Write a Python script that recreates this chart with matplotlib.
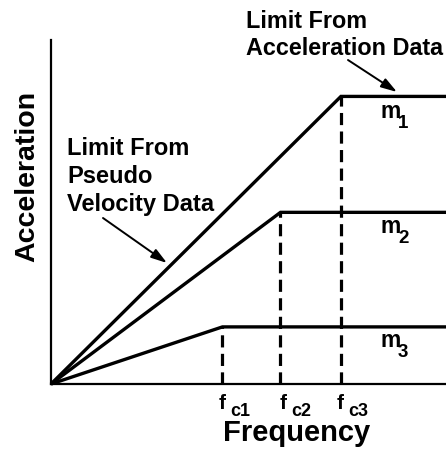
import matplotlib
matplotlib.use("Agg")
import matplotlib.pyplot as plt

# corner frequencies and plateau accelerations (arbitrary units)
fc = [4.34, 5.81, 7.34]
levels = [1.66, 4.99, 8.36]
fc_names = ["c1", "c2", "c3"]
m_names = ["1", "2", "3"]
f_max = 10.0

plt.rcParams['font.family'] = ['Liberation Sans', 'DejaVu Sans']
plt.rcParams['font.weight'] = 'bold'

W, H = 446, 455
fig = plt.figure(figsize=(W / 100, H / 100), dpi=100)
ax = fig.add_axes([51 / W, (H - 384) / H, (W - 51) / W, (384 - 40) / H])


def fp(x, y):
    # pixel position measured from the top-left corner -> figure pixels
    return (x, H - y)


# response curves: rise from origin, flat after the corner frequency
for f, a in zip(fc, levels):
    ax.plot([0, f, f_max], [0, a, a], color='black', lw=2.4,
            solid_joinstyle='miter', solid_capstyle='butt', clip_on=False)
    ax.plot([f, f], [0, a], color='black', lw=2.3,
            linestyle=(0, (3.8, 2.0)), dash_capstyle='butt')

ax.set_xlim(0, f_max)
ax.set_ylim(0, 10)
ax.set_xticks([])
ax.set_yticks([])
for side in ['top', 'right']:
    ax.spines[side].set_visible(False)
for side in ['left', 'bottom']:
    ax.spines[side].set_linewidth(1.6)

# f_c labels under the dashed lines
f_left = [219, 280, 337]
for x0, name in zip(f_left, fc_names):
    fig.text(x0 / W, (H - 409) / H, "f", fontsize=15, fontweight='bold',
             ha='left', va='baseline')
    fig.text((x0 + 11) / W, (H - 416) / H, name, fontsize=13,
             fontweight='bold', ha='left', va='baseline')

# m labels under each plateau
m_base = [118, 233, 347]
for yb, name in zip(m_base, m_names):
    fig.text(380 / W, (H - yb) / H, "m", fontsize=16.5, fontweight='bold',
             ha='left', va='baseline')
    fig.text(398 / W, (H - yb - 10) / H, name, fontsize=13.5,
             fontweight='bold', ha='left', va='baseline')

fig.text(297 / W, (H - 441) / H, "Frequency", fontsize=21,
         fontweight='bold', ha='center', va='baseline')
fig.text(27 / W, (H - 176) / H, "Acceleration", fontsize=20.5,
         fontweight='bold', rotation=90, ha='center', va='center')

# annotation text
for txt, yb in zip(["Limit From", "Acceleration Data"], [28, 55]):
    fig.text(246 / W, (H - yb) / H, txt, fontsize=16.8, fontweight='bold',
             ha='left', va='baseline')
for txt, yb in zip(["Limit From", "Pseudo", "Velocity Data"], [155, 183, 211]):
    fig.text(67 / W, (H - yb) / H, txt, fontsize=17, fontweight='bold',
             ha='left', va='baseline')

arrow = dict(arrowstyle='-|>,head_length=0.8,head_width=0.25',
             color='black', lw=1.4, mutation_scale=12, shrinkA=0, shrinkB=0)
ax.annotate("", xy=fp(397, 92), xycoords='figure pixels',
            xytext=fp(348, 60), textcoords='figure pixels', arrowprops=arrow)
ax.annotate("", xy=fp(167, 263), xycoords='figure pixels',
            xytext=fp(103, 218), textcoords='figure pixels', arrowprops=arrow)

fig.savefig("out.png", dpi=100)
